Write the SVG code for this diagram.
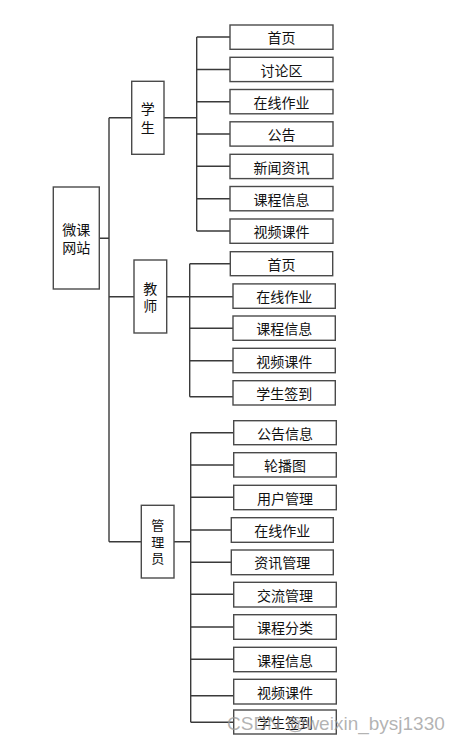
<svg xmlns="http://www.w3.org/2000/svg" width="458" height="744" viewBox="0 0 458 744">
<style>
.b{fill:#fff;stroke:#4a4a4a;stroke-width:1.4}
.t{font-family:"Noto Sans CJK SC","Liberation Sans",sans-serif;font-size:14px;fill:#111;text-anchor:middle;dominant-baseline:central}
.v{font-size:13px}
.c{fill:none;stroke:#3a3a3a;stroke-width:1.4}
.w{font-family:"Liberation Sans","DejaVu Sans",sans-serif;font-size:19px;fill:#9a9a9a;fill-opacity:0.75}
</style>
<rect width="458" height="744" fill="#fff"/>
<g id="connectors">
<path class="c" d="M99.3 238.3H109M109 117.7V541.7M109 117.7H131.7M109 296.7H134M109 541.7H141.3"/>
<path class="c" d="M164 117.7H196.7M196.7 37V231M196.7 37H230M196.7 69.5H230M196.7 101.7H230M196.7 134H230M196.7 166.3H230M196.7 198.7H230M196.7 231H230"/>
<path class="c" d="M166.7 296.7H189.7M189.7 263.7V396.7M189.7 263.7H230.3M189.7 296.7H233M189.7 328.3H233M189.7 360.7H233M189.7 396.7H233"/>
<path class="c" d="M174 541.7H190.7M190.7 432.7V722.3M190.7 432.7H233.7M190.7 465H233.7M190.7 497.3H233.7M190.7 530H231.3M190.7 562.3H231.3M190.7 594.3H233.7M190.7 627H233.7M190.7 659.3H233.7M190.7 695.7H233.7M190.7 722.3H233.7"/>
</g>
<g id="root"><rect class="b" x="53.3" y="187" width="46" height="102"/><text class="t" x="76.3" y="229.3">微课</text><text class="t" x="76.3" y="246.7">网站</text></g>
<g id="student"><rect class="b" x="131.7" y="81.3" width="32.3" height="73"/><text class="t" x="147.8" y="108.3">学</text><text class="t" x="147.8" y="126.7">生</text></g>
<g id="teacher"><rect class="b" x="134" y="260" width="32.7" height="73"/><text class="t" x="150.3" y="287.7">教</text><text class="t" x="150.3" y="305">师</text></g>
<g id="admin"><rect class="b" x="141.3" y="505.3" width="32.7" height="72.7"/><text class="t v" x="157.7" y="524.7">管</text><text class="t v" x="157.7" y="541">理</text><text class="t v" x="157.7" y="557.5">员</text></g>
<g id="s1"><rect class="b" x="230" y="25" width="103" height="24.3"/><text class="t" x="281.5" y="37.2">首页</text></g>
<g id="s2"><rect class="b" x="230" y="57.3" width="103" height="24.3"/><text class="t" x="281.5" y="69.5">讨论区</text></g>
<g id="s3"><rect class="b" x="230" y="89.5" width="103" height="24.3"/><text class="t" x="281.5" y="101.7">在线作业</text></g>
<g id="s4"><rect class="b" x="230" y="121.8" width="103" height="24.3"/><text class="t" x="281.5" y="134">公告</text></g>
<g id="s5"><rect class="b" x="230" y="154.3" width="103" height="24.3"/><text class="t" x="281.5" y="166.5">新闻资讯</text></g>
<g id="s6"><rect class="b" x="230" y="186.5" width="103" height="24.3"/><text class="t" x="281.5" y="198.7">课程信息</text></g>
<g id="s7"><rect class="b" x="230" y="219" width="103" height="24.3"/><text class="t" x="281.5" y="231.2">视频课件</text></g>
<g id="t1"><rect class="b" x="230.3" y="251.7" width="102.4" height="24"/><text class="t" x="281.5" y="263.7">首页</text></g>
<g id="t2"><rect class="b" x="233" y="283.9" width="102.3" height="24.4"/><text class="t" x="284.2" y="296.1">在线作业</text></g>
<g id="t3"><rect class="b" x="233" y="316" width="102.3" height="24.3"/><text class="t" x="284.2" y="328.2">课程信息</text></g>
<g id="t4"><rect class="b" x="233" y="348.3" width="102.3" height="24.4"/><text class="t" x="284.2" y="360.5">视频课件</text></g>
<g id="t5"><rect class="b" x="233" y="380.7" width="102.3" height="24.3"/><text class="t" x="284.2" y="392.8">学生签到</text></g>
<g id="a1"><rect class="b" x="233.7" y="420.7" width="102.6" height="24"/><text class="t" x="285" y="432.7">公告信息</text></g>
<g id="a2"><rect class="b" x="233.7" y="452.7" width="102.6" height="24.3"/><text class="t" x="285" y="464.8">轮播图</text></g>
<g id="a3"><rect class="b" x="233.7" y="485.3" width="102.6" height="24.4"/><text class="t" x="285" y="497.5">用户管理</text></g>
<g id="a4"><rect class="b" x="231.3" y="517.7" width="102" height="24.6"/><text class="t" x="282.3" y="530">在线作业</text></g>
<g id="a5"><rect class="b" x="231.3" y="550" width="102" height="24.7"/><text class="t" x="282.3" y="562.3">资讯管理</text></g>
<g id="a6"><rect class="b" x="233.7" y="582.3" width="102.6" height="24.7"/><text class="t" x="285" y="594.6">交流管理</text></g>
<g id="a7"><rect class="b" x="233.7" y="614.7" width="102.6" height="24.6"/><text class="t" x="285" y="627">课程分类</text></g>
<g id="a8"><rect class="b" x="233.7" y="647.3" width="102.6" height="24.4"/><text class="t" x="285" y="659.5">课程信息</text></g>
<g id="a9"><rect class="b" x="233.7" y="679.3" width="102.6" height="24.7"/><text class="t" x="285" y="691.6">视频课件</text></g>
<g id="a10"><rect class="b" x="233.7" y="710" width="102.6" height="24"/><text class="t" x="285" y="722">学生签到</text></g>
<text class="w" x="227" y="730">CSDN @weixin_bysj1330</text>
</svg>
